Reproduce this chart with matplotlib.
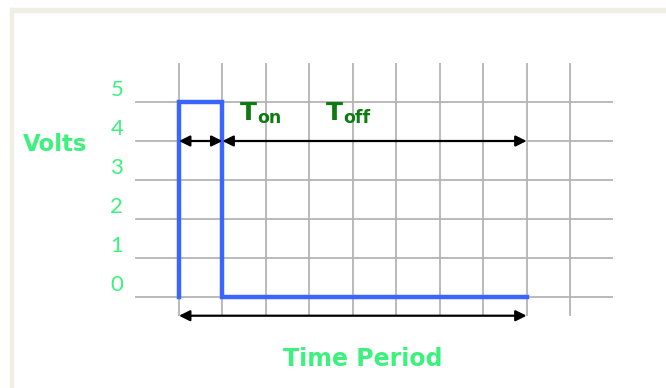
import matplotlib.pyplot as plt
from matplotlib.patches import Rectangle

# grid positions (one column per time unit, one row per volt)
time_ticks = [0, 1, 2, 3, 4, 5, 6, 7, 8, 9]
volt_ticks = [0, 1, 2, 3, 4, 5]
volt_labels = ['0', '1', '2', '3', '4', '5']

# pulse: high for one unit, low until the end of the period
pulse_t = [0, 0, 1, 1, 8]
pulse_v = [0, 5, 5, 0, 0]
t_on = (0, 1)
t_off = (1, 8)
period = (0, 8)

light_green = '#3cf27d'
dark_green = '#0f7a12'
grid_col = '#b4b4b4'

fig = plt.figure(figsize=(6.66, 3.88), dpi=100)
ax = fig.add_axes([0, 0, 1, 1])
ax.set_axis_off()
# map pixels to data: 43.45 px per time unit, 39 px per volt
ax.set_xlim(-179 / 43.45, (666 - 179) / 43.45)
ax.set_ylim(-(388 - 297) / 39, 297 / 39)

# beige frame
fig.patches.append(Rectangle((10 / 666, 1 - 12 / 388), 1, 4 / 388,
                             transform=fig.transFigure, color='#f0eee6', zorder=0))
fig.patches.append(Rectangle((10 / 666, 0), 3 / 666, 1 - 8 / 388,
                             transform=fig.transFigure, color='#f0eee6', zorder=0))

# grid
ax.vlines(time_ticks, -0.49, 6.0, color=grid_col, lw=1.3, zorder=1)
ax.hlines(volt_ticks, -1.01, 10.0, color=grid_col, lw=1.3, zorder=1)

for v, lab in zip(volt_ticks, volt_labels):
    ax.text(-1.43, v + 0.3, lab, color=light_green, fontsize=16,
            family='Lato', ha='center', va='center')

ax.text(-2.85, 3.92, 'Volts', color=light_green, fontsize=16.5,
        fontweight='bold', ha='center', va='center')
ax.text(4.23, -1.59, 'Time Period', color=light_green, fontsize=17,
        fontweight='bold', ha='center', va='center')

# pulse
ax.plot(pulse_t, pulse_v, color='#3a66ff', lw=3.2, zorder=3,
        solid_joinstyle='miter')

# arrows
arrow = dict(arrowstyle='<|-|>', color='black', lw=1.6, mutation_scale=16,
             shrinkA=0, shrinkB=0)
ax.annotate('', xy=(t_on[1], 4), xytext=(t_on[0], 4), arrowprops=arrow, zorder=4)
ax.annotate('', xy=(t_off[1], 4), xytext=(t_off[0], 4), arrowprops=arrow, zorder=4)
ax.annotate('', xy=(period[1], -0.48), xytext=(period[0], -0.48), arrowprops=arrow, zorder=4)

# Ton / Toff labels
for x0, sub in [(1.40, 'on'), (3.38, 'off')]:
    ax.text(x0, 4.54, 'T', color=dark_green, fontsize=18, fontweight='bold',
            ha='left', va='baseline')
    ax.text(x0 + 0.39, 4.45, sub, color=dark_green, fontsize=12.5,
            fontweight='bold', ha='left', va='baseline')

fig.savefig('out.png', dpi=100)
